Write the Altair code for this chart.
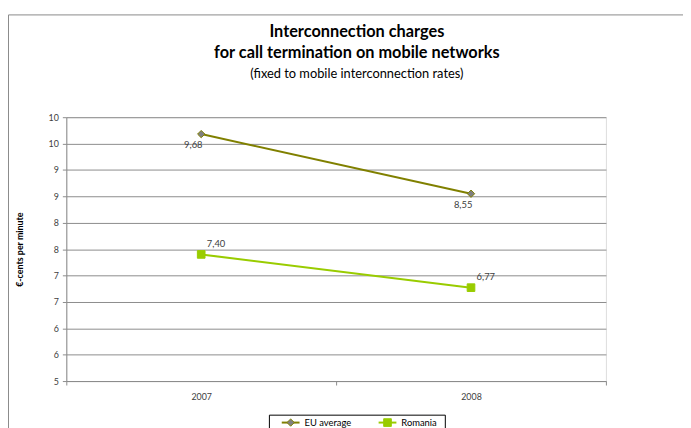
import altair as alt
import pandas as pd

# ---- data ----
years = ["2007", "2008"]
series_names = ["EU average", "Romania"]
eu_values = [9.68, 8.55]
ro_values = [7.40, 6.77]
y_ticks = [5, 5.5, 6, 6.5, 7, 7.5, 8, 8.5, 9, 9.5, 10]
title_lines = ["Interconnection charges", "for call termination on mobile networks"]
subtitle = "(fixed to mobile interconnection rates)"

rows = []
for name, vals in zip(series_names, [eu_values, ro_values]):
    for i, (yr, v) in enumerate(zip(years, vals)):
        rows.append({"series": name, "year": yr, "pos": i + 0.5, "value": v})
df = pd.DataFrame(rows)

# ---- styling ----
W, H = 546, 267
FONT = "Lato"
GRID = "#8c8c8c"
series_colors = ["#808000", "#99CC00"]
color_of = dict(zip(series_names, series_colors))

label_expr = "".join(
    f"datum.value == {i + 0.5} ? '{y}' : " for i, y in enumerate(years)
) + "''"

x_enc = alt.X(
    "pos:Q",
    scale=alt.Scale(domain=[0, len(years)], nice=False, zero=False),
    axis=alt.Axis(
        values=[k * 0.5 for k in range(2 * len(years) + 1)],
        labelExpr=label_expr,
        title=None,
        grid=False,
        tickSize=4,
        labelPadding=8,
        tickColor=GRID,
        domainColor=GRID,
        tickOpacity={"condition": {"test": "datum.value % 1 != 0", "value": 0}, "value": 1},
        labelFontSize=9,
        labelColor="#404040",
        labelFont=FONT,
        labelAngle=0,
        labelOverlap=False,
        labelFlush=False,
    ),
)

y_enc = alt.Y(
    "value:Q",
    scale=alt.Scale(domain=[5, 10], nice=False, zero=False),
    axis=alt.Axis(
        values=y_ticks,
        format=".0f",
        title="€-cents per minute",
        titleFontSize=9,
        titleFont=FONT,
        titleFontWeight="bold",
        titleColor="black",
        titleX=-47,
        titleY=H / 2,
        titleAngle=270,
        titleAlign="center",
        titleBaseline="middle",
        tickSize=4,
        labelPadding=4,
        gridColor=GRID,
        domainColor=GRID,
        tickColor=GRID,
        labelFontSize=9,
        labelColor="#404040",
        labelFont=FONT,
    ),
)

one = pd.DataFrame({"k": [0]})

# outer chart-area frame
frame = alt.Chart(one).mark_rect(
    fillOpacity=0, stroke="#8a8a8a", strokeWidth=1
).encode(
    x=alt.value(-58.5), x2=alt.value(W + 200),
    y=alt.value(-103.5), y2=alt.value(H + 200),
)

layers = [frame]

# titles
title_df = pd.DataFrame({"t": title_lines})
for i, line in enumerate(title_lines):
    layers.append(
        alt.Chart(title_df).transform_filter(alt.datum.t == line).mark_text(
            font=FONT, fontSize=16.5, fontWeight="bold", color="black", align="center", baseline="middle"
        ).encode(text="t:N", x=alt.value(294), y=alt.value(-86 + 21 * i))
    )
layers.append(
    alt.Chart(pd.DataFrame({"t": [subtitle]})).mark_text(
        font=FONT, fontSize=13, color="black", align="center", baseline="middle"
    ).encode(text="t:N", x=alt.value(294), y=alt.value(-44))
)

marker_style = {
    "EU average": dict(shape="diamond", size=55, fill="#808080", stroke="#808000", strokeWidth=1),
    "Romania": dict(shape="square", size=60, fill="#99CC00", stroke="#99CC00", strokeWidth=1),
}
label_offsets = {"EU average": (-8, 11), "Romania": (15, -11)}

for name in series_names:
    base = alt.Chart(df).transform_filter(alt.datum.series == name).encode(x=x_enc, y=y_enc)
    line = base.mark_line(color=color_of[name], strokeWidth=2)
    pts = base.mark_point(filled=True, opacity=1, **marker_style[name])
    dx, dy = label_offsets[name]
    txt = base.transform_calculate(
        lbl="replace(format(datum.value, '.2f'), '.', ',')"
    ).mark_text(dx=dx, dy=dy, fontSize=9.5, font=FONT, color="#404040").encode(text="lbl:N")
    layers += [line, pts, txt]

# legend (boxed, below the plot, clipped by the page edge like the reference)
LX, LY = 205.5, 301.5
layers.append(
    alt.Chart(one).mark_rect(fill="white", stroke="black", strokeWidth=1).encode(
        x=alt.value(LX), x2=alt.value(LX + 178), y=alt.value(LY), y2=alt.value(H + 200)
    )
)
legend_df = pd.DataFrame({"series": series_names})
entry_x = {"EU average": 218, "Romania": 316}
for name in series_names:
    ex = entry_x[name]
    sub = alt.Chart(legend_df).transform_filter(alt.datum.series == name)
    layers.append(
        sub.mark_rule(color=color_of[name], strokeWidth=2).encode(
            x=alt.value(ex), x2=alt.value(ex + 18), y=alt.value(LY + 7.5)
        )
    )
    layers.append(
        sub.mark_point(filled=True, opacity=1, **marker_style[name]).encode(
            x=alt.value(ex + 9), y=alt.value(LY + 7.5)
        )
    )
    layers.append(
        sub.mark_text(font=FONT, fontSize=9.5, color="black", align="left", baseline="middle").encode(
            text="series:N", x=alt.value(ex + 23), y=alt.value(LY + 7.5)
        )
    )

chart = alt.layer(*layers).properties(
    width=W,
    height=H,
    padding={"left": 59, "top": 108, "right": 78, "bottom": 45},
    autosize=alt.AutoSizeParams(type="none"),
).configure_view(stroke=None).configure(background="white")

chart.save("out.html", embed_options={"renderer": "svg", "actions": False})
